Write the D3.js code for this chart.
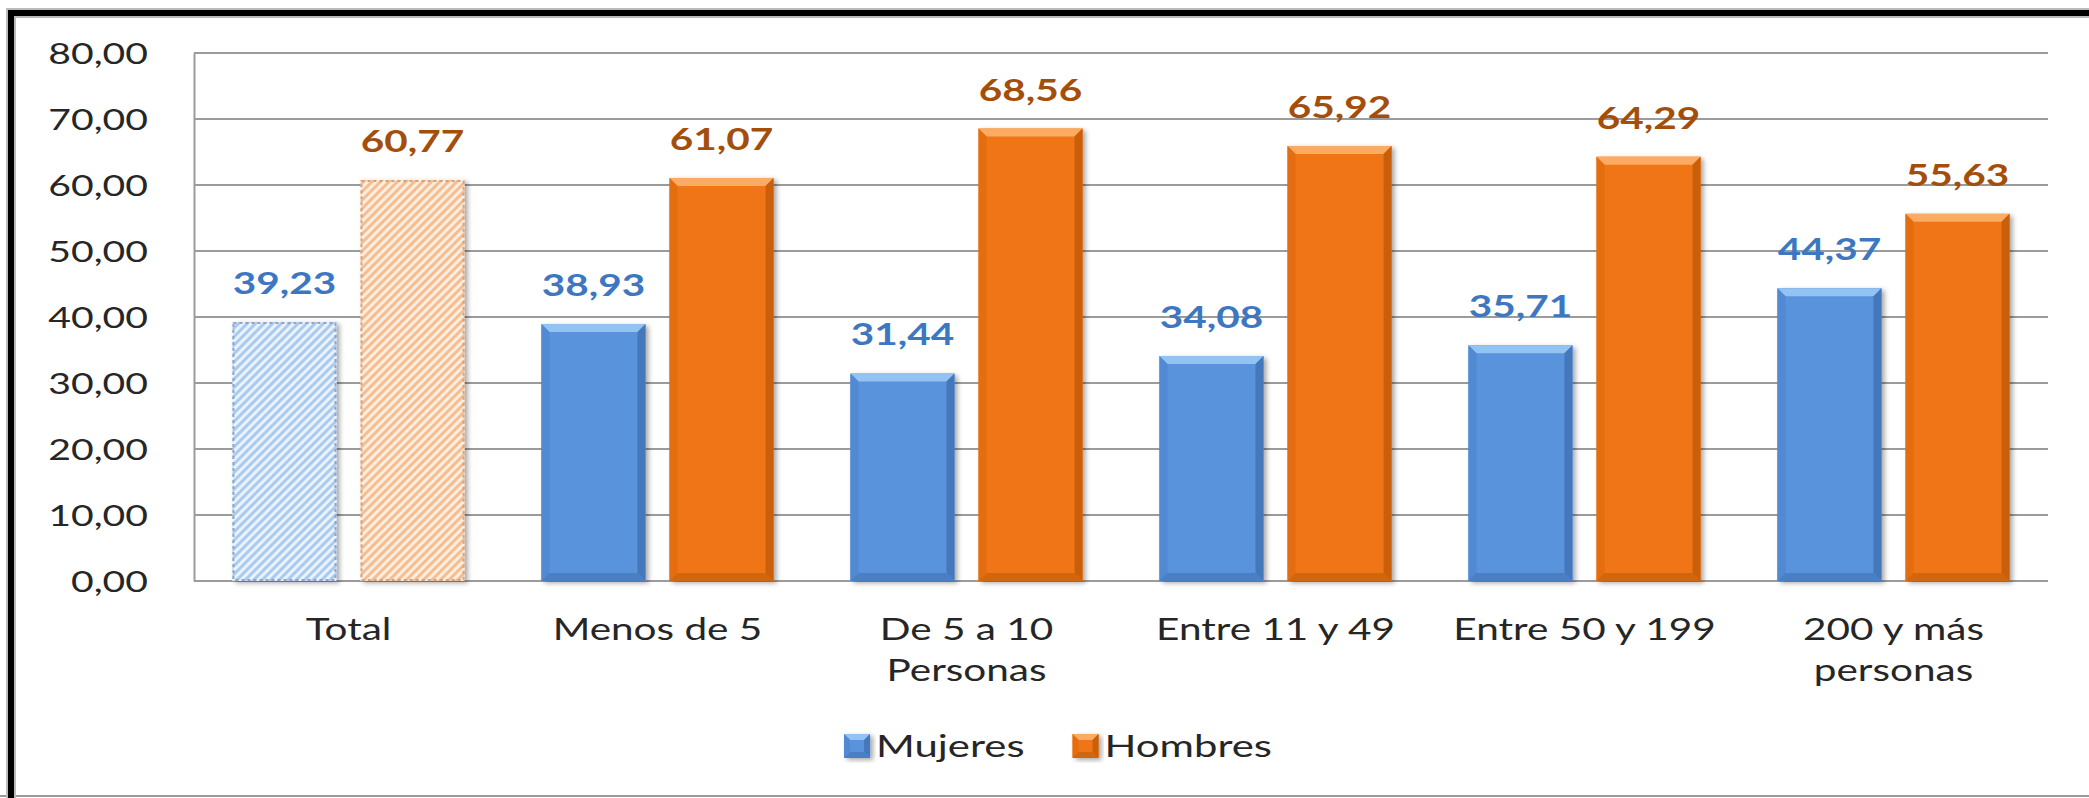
<!DOCTYPE html>
<html>
<head>
<meta charset="utf-8">
<script src="https://cdn.jsdelivr.net/npm/d3@7"></script>
<style>
    html, body { margin: 0; padding: 0; background: #fff; }
    svg { display: block; font-family: Lato, 'Open Sans', sans-serif; }
</style>
</head>
<body>
<svg id="chart" width="2089" height="798"></svg>
<script>
// values
const categories = ['Total', 'Menos de 5', 'De 5 a 10\nPersonas', 'Entre 11 y 49', 'Entre 50 y 199', '200 y más\npersonas'];
const seriesNames = ['Mujeres', 'Hombres'];
const mujeres = [39.23, 38.93, 31.44, 34.08, 35.71, 44.37];
const hombres = [60.77, 61.07, 68.56, 65.92, 64.29, 55.63];
const yTicks = [0, 10, 20, 30, 40, 50, 60, 70, 80];

const SX = 1.35; // the picture is stretched sideways, so the text is too
const W = 2089;
const H = 798;
const margin = { top: 53, right: 41, bottom: 216, left: 194 };

const colors = {
    Mujeres: { main: '#5993dc', top: '#93c3f3', left: '#5189d2', right: '#4478bb', bottom: '#4a7fc4', label: '#3e77c1', stripe: '#a9cbef', back: '#eaf2fc' },
    Hombres: { main: '#ef7512', top: '#fbab62', left: '#e46e0f', right: '#c95f0a', bottom: '#d2660d', label: '#a44e0c', stripe: '#f7bd8f', back: '#fdeee2' }
};

const fmt = d3.formatLocale({ decimal: ',', thousands: '.', grouping: [3], currency: ['', ''] }).format('.2f');

const svg = d3.select('#chart');
const defs = svg.append('defs');

const shadow = defs.append('filter').attr('id', 'shadow')
    .attr('x', '-20%').attr('y', '-20%').attr('width', '140%').attr('height', '140%');
shadow.append('feDropShadow')
    .attr('dx', 3).attr('dy', 2).attr('stdDeviation', 2.5)
    .attr('flood-color', '#000').attr('flood-opacity', 0.35);

seriesNames.forEach(name => {
    const p = defs.append('pattern')
        .attr('id', 'hatch-' + name)
        .attr('patternUnits', 'userSpaceOnUse')
        .attr('width', 6).attr('height', 6)
        .attr('patternTransform', 'rotate(45)');
    p.append('rect').attr('width', 6).attr('height', 6).attr('fill', colors[name].back);
    p.append('rect').attr('width', 3).attr('height', 6).attr('fill', colors[name].stripe);
});

// frame
svg.append('rect').attr('width', W).attr('height', H).attr('fill', '#fff');
svg.append('line').attr('x1', 0).attr('x2', W).attr('y1', 796).attr('y2', 796)
    .attr('stroke', '#9a9a9a').attr('stroke-width', 2);
svg.append('path').attr('d', 'M11,798 V13 H' + W)
    .attr('fill', 'none').attr('stroke', '#bbb').attr('stroke-width', 10);
svg.append('path').attr('d', 'M11,798 V13 H' + W)
    .attr('fill', 'none').attr('stroke', '#000').attr('stroke-width', 6);

const x0 = d3.scaleBand()
    .domain(categories)
    .range([margin.left, W - margin.right]);

const x1 = d3.scaleBand()
    .domain(seriesNames)
    .range([0, x0.bandwidth()])
    .paddingInner(0.1875)
    .paddingOuter(0.30);

const y = d3.scaleLinear()
    .domain([0, 80])
    .range([H - margin.bottom - 1, margin.top]);

// gridlines
svg.append('g')
    .selectAll('line')
    .data(yTicks)
    .enter()
    .append('line')
    .attr('x1', margin.left)
    .attr('x2', W - margin.right)
    .attr('y1', d => y(d))
    .attr('y2', d => y(d))
    .attr('stroke', '#9b9b9b')
    .attr('stroke-width', 2);

// y axis
const yAxis = svg.append('g')
    .attr('transform', 'translate(' + margin.left + ',0)')
    .call(d3.axisLeft(y).tickValues(yTicks).tickSize(0).tickPadding(0).tickFormat(fmt));
yAxis.select('.domain').attr('stroke', '#9b9b9b').attr('stroke-width', 2);
yAxis.selectAll('text')
    .attr('x', 0)
    .attr('dy', '0.36em')
    .attr('transform', 'translate(-46,0) scale(' + SX + ',1)')
    .style('font-family', 'Lato, sans-serif')
    .style('font-size', '29px')
    .attr('fill', '#262626');

// bars
const rows = [];
categories.forEach((c, i) => {
    rows.push({ cat: c, series: 'Mujeres', value: mujeres[i], hatched: i === 0 });
    rows.push({ cat: c, series: 'Hombres', value: hombres[i], hatched: i === 0 });
});

function bevelBar (g, d, bx, by, bw, bh, b) {
    const c = colors[d.series];
    g.append('rect').attr('x', bx).attr('y', by).attr('width', bw).attr('height', bh)
        .attr('fill', c.main).attr('filter', 'url(#shadow)');
    const pts = [
        [[bx, by], [bx + bw, by], [bx + bw - b, by + b], [bx + b, by + b], c.top],
        [[bx, by], [bx + b, by + b], [bx + b, by + bh - b], [bx, by + bh], c.left],
        [[bx + bw, by], [bx + bw, by + bh], [bx + bw - b, by + bh - b], [bx + bw - b, by + b], c.right],
        [[bx, by + bh], [bx + b, by + bh - b], [bx + bw - b, by + bh - b], [bx + bw, by + bh], c.bottom]
    ];
    pts.forEach(p => {
        g.append('polygon')
            .attr('points', p.slice(0, 4).map(q => q.join(',')).join(' '))
            .attr('fill', p[4]);
    });
}

const barGroup = svg.append('g');
rows.forEach(d => {
    const bx = x0(d.cat) + x1(d.series);
    const bw = x1.bandwidth();
    const by = y(d.value);
    const bh = y(0) - y(d.value);
    const g = barGroup.append('g');
    if (d.hatched) {
        g.append('rect')
            .attr('x', bx).attr('y', by).attr('width', bw).attr('height', bh)
            .attr('fill', 'url(#hatch-' + d.series + ')')
            .attr('filter', 'url(#shadow)');
        g.append('rect')
            .attr('x', bx + 1).attr('y', by + 1).attr('width', bw - 2).attr('height', bh - 2)
            .attr('fill', 'none')
            .attr('stroke', d.series === 'Mujeres' ? '#8fa6c4' : '#c9a58a')
            .attr('stroke-width', 2)
            .attr('stroke-dasharray', '3,3');
    } else {
        bevelBar(g, d, bx, by, bw, bh, 8);
    }
});

// value labels
svg.append('g')
    .selectAll('text')
    .data(rows)
    .enter()
    .append('text')
    .attr('text-anchor', 'middle')
    .attr('transform', d => 'translate(' + (x0(d.cat) + x1(d.series) + x1.bandwidth() / 2) + ',' + (y(d.value) - 28) + ') scale(' + SX + ',1)')
    .style('font-size', '30px')
    .style('font-weight', 'bold')
    .attr('fill', d => colors[d.series].label)
    .text(d => fmt(d.value));

// category labels
const catLabels = svg.append('g')
    .selectAll('text')
    .data(categories)
    .enter()
    .append('text')
    .attr('text-anchor', 'middle')
    .attr('transform', d => 'translate(' + (x0(d) + x0.bandwidth() / 2) + ',640) scale(' + SX + ',1)')
    .style('font-size', '30px')
    .attr('fill', '#262626');
catLabels.selectAll('tspan')
    .data(d => d.split('\n'))
    .enter()
    .append('tspan')
    .attr('x', 0)
    .attr('y', (d, i) => i * 41)
    .text(d => d);

// legend
const legend = svg.append('g');
const items = legend.selectAll('g')
    .data(seriesNames)
    .enter()
    .append('g');
items.each(function (name) {
    const g = d3.select(this);
    bevelBar(g, { series: name }, 0, -12, 26, 24, 6);
    g.append('text')
        .attr('transform', 'translate(32,11) scale(' + SX + ',1)')
        .style('font-size', '31px')
        .attr('fill', '#262626')
        .text(name);
});
let cursor = 0;
const widths = [];
items.each(function () { widths.push(this.getBBox().width); });
const total = d3.sum(widths) + 48;
let lx = 1058 - total / 2;
items.attr('transform', (d, i) => {
    const t = 'translate(' + lx + ',746)';
    lx += widths[i] + 48;
    return t;
});
</script>
</body>
</html>
